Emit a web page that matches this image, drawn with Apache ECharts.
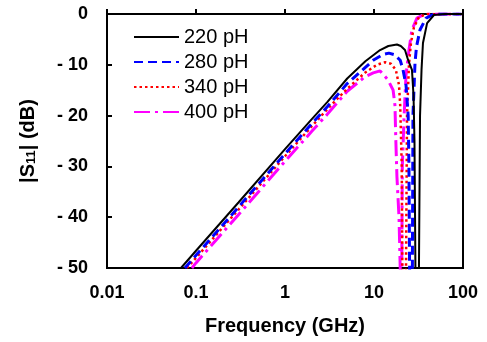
<!DOCTYPE html>
<html>
<head>
<meta charset="utf-8">
<script src="https://cdn.jsdelivr.net/npm/echarts@6/dist/echarts.min.js"></script>
<style>html,body{margin:0;padding:0;background:#fff;}#c{width:487px;height:342px;}</style>
</head>
<body>
<div id="c"></div>
<script>
// Data: [frequency (GHz), |S11| (dB)]
const seriesNames = ['220 pH', '280 pH', '340 pH', '400 pH'];
const s220 = [[0.0678,-50],[0.1,-46.6],[0.3,-37.1],[1,-26.6],[2,-20.7],[3,-17.3],[5,-12.7],[8,-9.3],[11.7,-7.1],[14.5,-6.3],[18.1,-6.0],[20,-6.3],[22.3,-7.1],[24.2,-9.1],[26.7,-11],[27.8,-16],[28.5,-25],[29.2,-50],[30.8,-65],[32,-50],[32.9,-20],[34.2,-11],[35.5,-5.7],[39.5,-1.8],[47.2,-0.2],[63,0],[100,0]];
const s280 = [[0.0751,-50],[0.1,-47.5],[0.3,-38],[1,-27.5],[2,-21.6],[3,-18.2],[5,-13.7],[8,-10.5],[10,-9.0],[12.5,-8.0],[14.7,-7.7],[17,-8.0],[19.7,-9.1],[21.2,-11],[22.9,-14],[24.2,-20],[24.7,-30],[25.1,-50],[26,-65],[27,-50],[27.4,-20],[28.9,-9.6],[30,-6.5],[32.9,-3.1],[38.5,-0.8],[47.2,0],[100,0]];
const s340 = [[0.079,-50],[0.1,-48],[0.3,-38.5],[1,-28],[2,-22.1],[3,-18.7],[5,-14.7],[8,-11.5],[10.8,-10],[13.3,-9.5],[15.5,-9.8],[17.6,-11],[19.1,-14],[19.7,-18],[20.5,-30],[20.8,-50],[21.8,-65],[22.9,-50],[23.5,-20],[24.7,-10],[26,-5.7],[28.1,-2.6],[32,-0.6],[39.5,0],[100,0]];
const s400 = [[0.090,-50],[0.1,-49],[0.3,-39.5],[1,-29],[2,-23.1],[3,-19.7],[5,-15.2],[8,-12.3],[9.8,-11.6],[11.7,-11.2],[14.4,-13],[16.4,-15],[17.2,-18],[17.6,-25],[18.1,-32],[19.1,-40],[19.7,-50],[20.2,-65],[20.5,-50],[20.8,-30],[21.8,-20],[22.9,-12],[24.7,-7.1],[26.7,-3.1],[30.4,-0.8],[37.4,0],[100,0]];
const xTickLabels = ['0.01', '0.1', '1', '10', '100'];
const yTickLabels = ['- 50', '- 40', '- 30', '- 20', '- 10', '0'];

const chart = echarts.init(document.getElementById('c'), null, {renderer: 'canvas'});
const font = '"Liberation Sans", Arial, sans-serif';
const styles = [
  {color: '#000000', width: 2, type: 'solid'},
  {color: '#0000ff', width: 3, type: [9, 5]},
  {color: '#ff0000', width: 2.5, type: [2.5, 3]},
  {color: '#ff00ff', width: 3, type: [16, 5, 3, 5]}
];
const datas = [s220, s280, s340, s400];
chart.setOption({
  animation: false,
  backgroundColor: '#ffffff',
  grid: {left: 107, right: 24, top: 14, bottom: 74, show: true, borderColor: '#000', borderWidth: 2, containLabel: false},
  legend: {
    orient: 'vertical', left: 128, top: 22, itemWidth: 45, itemHeight: 14, itemGap: 5,
    itemStyle: {color: 'rgba(0,0,0,0)', borderWidth: 0, opacity: 0},
    textStyle: {fontFamily: font, fontSize: 20, color: '#000', lineHeight: 20},
    data: seriesNames
  },
  xAxis: {
    type: 'log', logBase: 10, min: 0.01, max: 100,
    name: 'Frequency (GHz)', nameLocation: 'middle', nameGap: 48,
    nameTextStyle: {fontFamily: font, fontSize: 20, fontWeight: 'bold', color: '#000'},
    axisLine: {lineStyle: {color: '#000', width: 2}},
    axisTick: {inside: true, length: 5, lineStyle: {color: '#000', width: 2}},
    minorTick: {show: false},
    splitLine: {show: false},
    axisLabel: {
      margin: 16, fontFamily: font, fontSize: 18, fontWeight: 'bold', color: '#000',
      formatter: v => xTickLabels[Math.round(Math.log10(v)) + 2]
    }
  },
  yAxis: {
    type: 'value', min: -50, max: 0, interval: 10,
    name: '|S{sub|11}| (dB)', nameLocation: 'middle', nameGap: 69, nameRotate: 90,
    nameTextStyle: {fontFamily: font, fontSize: 20, fontWeight: 'bold', color: '#000',
      rich: {sub: {fontFamily: font, fontSize: 13, fontWeight: 'bold', color: '#000', verticalAlign: 'bottom', padding: [7, 0, 0, 0]}}},
    axisLine: {show: true, lineStyle: {color: '#000', width: 2}},
    axisTick: {show: true, inside: true, length: 5, lineStyle: {color: '#000', width: 2}},
    splitLine: {show: false},
    axisLabel: {
      margin: 19, fontFamily: font, fontSize: 18, fontWeight: 'bold', color: '#000',
      formatter: v => yTickLabels[Math.round((v + 50) / 10)]
    }
  },
  series: datas.map((d, i) => ({
    name: seriesNames[i], type: 'line', data: d, symbol: 'none', smooth: false, clip: true,
    lineStyle: styles[i], itemStyle: {color: styles[i].color}, z: 10 - i
  }))
});
</script>
</body>
</html>
